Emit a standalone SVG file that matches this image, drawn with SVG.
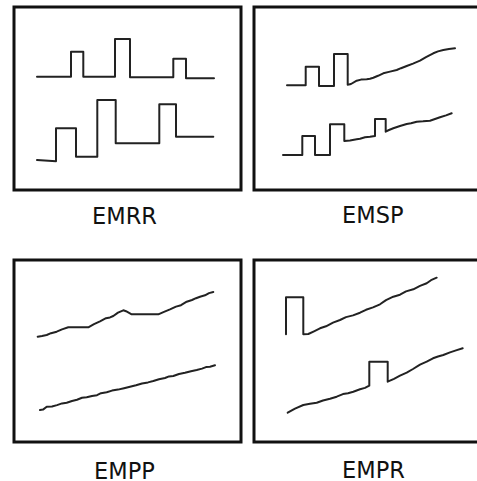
<svg xmlns="http://www.w3.org/2000/svg" width="477" height="481" viewBox="0 0 477 481">
  <style>
    .frame { fill: #ffffff; stroke: #111111; stroke-width: 3; }
    .trace { fill: none; stroke: #222222; stroke-width: 2; stroke-linejoin: round; stroke-linecap: round; }
    .label { font-family: "DejaVu Sans", Verdana, sans-serif; font-size: 22.5px; fill: #111111; }
  </style>
  <rect x="0" y="0" width="477" height="481" fill="#ffffff"/>

  <!-- EMRR: two square-pulse traces -->
  <g id="panel-emrr">
    <rect class="frame" x="14" y="7" width="227" height="183"/>
    <polyline class="trace" points="37,76.7 71,76.7 71,51.7 83.3,51.7 83.3,76.7 115,76.7 115,39 130,39 130,77.3 173.3,77.3 173.3,58.7 186,58.7 186,78.3 214,78.3"/>
    <polyline class="trace" points="37,160 56,161.3 56,128.3 76,128.3 76,156.7 97.3,156.7 97.3,100 115.7,100 115.7,143.3 159.3,143.3 159.3,104.3 176,104.3 176,136.7 213.3,136.7"/>
    <text class="label" x="92" y="224">EMRR</text>
  </g>

  <!-- EMSP: pulses followed by a rising drift -->
  <g id="panel-emsp">
    <rect class="frame" x="254" y="7" width="240" height="183"/>
    <polyline class="trace" points="287,85.3 305.7,85.3 305.7,66.7 319,66.7 319,86 334,86 334,54 347.7,54 347.7,84.7 351,84 356.7,80.7 361,79.6 366.7,79.3 370,78.8 373.3,77.7 378,75.8 383.3,73.3 390,71.6 396.7,70 401,68.2 406.7,66 413,63.6 420,60.7 426,57.2 433.3,53.3 438,51.4 443.3,50 449,48.9 455,48.3"/>
    <polyline class="trace" points="283,155 302.3,155 302.3,136 315,136 315,155 330,155 330,124.3 344.3,124.3 344.3,141 350,140.4 356.7,139.3 360,138.8 365,137.3 370,136.8 375,136 375,119 385.7,119 385.7,131.7 389,130 393.3,128.3 400,126 406.7,124 411,123.3 416.7,121.7 423,121.3 430,120.7 435,119 440,117.3 446,115.4 451.7,113.3"/>
    <text class="label" x="342" y="222.5">EMSP</text>
  </g>

  <!-- EMPP: two slowly rising traces -->
  <g id="panel-empp">
    <rect class="frame" x="14" y="260" width="227" height="182"/>
    <polyline class="trace" points="37.7,336.7 42,336 46.7,335 51,333.2 56.7,331.7 62,329.4 68.3,327.3 78,327.3 88.3,327.3 94,324.2 100,321.3 106,318.2 110,317.4 113.3,316 118,312.6 123.3,310.3 126,311.2 131.7,314.3 140,314.3 150,314.3 158.3,314.3 164,311.8 170,309.3 176,306.6 181,305.2 186.7,301.7 192,300 196,298.2 200,296.7 205,295.3 209,293.1 213.3,292"/>
    <polyline class="trace" points="40,410 43,409.6 46.7,406.7 52,406.5 57,405.1 62,403.4 66.7,402.7 72,401 77,399.8 82,397.8 86.7,397.3 92,396 97,395.2 101,393.2 106.7,392.3 112,390.6 118,389.6 124,388.2 130,386.7 136,385.3 142,383.5 148,382.4 153.3,381 159,379.3 165,378 169,376.4 173.3,376 179,374 185,372.8 191,371.2 196.7,370 202,368.6 206,367.1 210,366.7 215,365.3"/>
    <text class="label" x="94" y="478.5">EMPP</text>
  </g>

  <!-- EMPR: one pulse each on rising traces -->
  <g id="panel-empr">
    <rect class="frame" x="254" y="260" width="240" height="182"/>
    <polyline class="trace" points="286,334.3 286,297.3 303.3,297.3 303.3,334.3 308.3,334 314,331.3 320,328.3 326,326.3 333,322.6 340,320 346,317.1 353,315.4 360,312.7 366,309.8 373,307.4 380,304.3 386,300.1 393.3,296.7 400,294.7 406,291.4 413.3,289.3 420,285.9 426.7,283.3 431,280.2 436.7,277.7"/>
    <polyline class="trace" points="287.7,412.7 295,408.6 303.3,405 310,403.8 316.7,402.7 323,400.5 330,398.8 336.7,396.7 343,394.1 348,393.2 353.3,391.7 360,389.3 365,387.9 369.3,385.7 369.3,361.7 387.7,361.7 387.7,381.7 394,378.8 400,375.7 406.7,372.7 413,369 420,364.6 426.7,361.7 433,358.3 438,356.5 443.3,355 450,352.4 456,350.4 462.7,348.3"/>
    <text class="label" x="342" y="478">EMPR</text>
  </g>
</svg>
